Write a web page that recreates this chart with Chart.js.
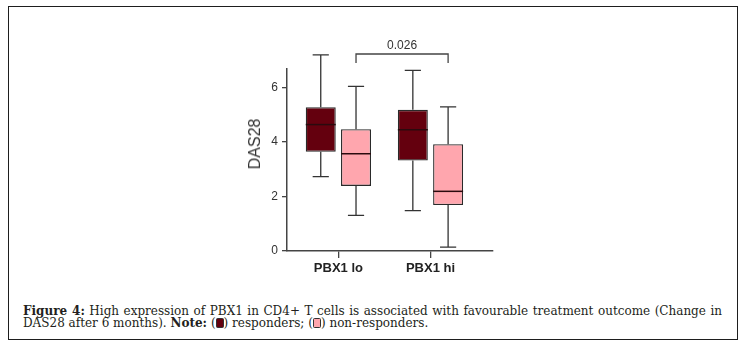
<!DOCTYPE html>
<html>
<head>
<meta charset="utf-8">
<script src="https://cdn.jsdelivr.net/npm/chart.js@4.4.1/dist/chart.umd.min.js"></script>
<style>
  html, body { margin: 0; padding: 0; background: #fff; }
  body { width: 744px; height: 349px; position: relative; overflow: hidden; }
  .frame { position: absolute; left: 8px; top: 6px; width: 729.5px; height: 334px; border: 1.5px solid #1e1e1e; box-sizing: border-box; }
  .chart-wrap { position: absolute; left: 0; top: 0; width: 744px; height: 300px; }
  .y-title { position: absolute; left: 255px; top: 144px; transform: translate(-50%, -50%) rotate(-90deg);
    font: 16px "Liberation Sans", Arial, sans-serif; color: #333; white-space: nowrap; }
  .caption { position: absolute; left: 23px; top: 304.5px; width: 699px; font: 12px "DejaVu Serif", serif;
    color: #231f20; line-height: 12.7px; }
  .caption .l1 { text-align: justify; text-align-last: justify; white-space: nowrap; }
  .swatch { display: inline-block; width: 6px; height: 8px; border: 1px solid #333; border-radius: 1.5px; vertical-align: -1px; }
</style>
</head>
<body>
<div class="frame"></div>
<div class="chart-wrap"><canvas id="boxChart"></canvas></div>
<div class="y-title">DAS28</div>
<div class="caption">
  <div class="l1"><b>Figure 4:</b> High expression of PBX1 in CD4+ T cells is associated with favourable treatment outcome (Change in</div>
  <div>DAS28 after 6 months). <b>Note:</b> (<span class="swatch" style="background:#64000e"></span>) responders; (<span class="swatch" style="background:#ffa6ae"></span>) non-responders.</div>
</div>
<script>
// groups on the x axis
const groups = ['PBX1 lo', 'PBX1 hi'];
const yTicks = [0, 2, 4, 6];

// responders (box plot stats)
const respMin = [2.73, 1.48];
const respQ1  = [3.64, 3.32];
const respMed = [4.64, 4.45];
const respQ3  = [5.28, 5.18];
const respMax = [7.20, 6.63];

// non-responders
const nonMin = [1.31, 0.14];
const nonQ1  = [2.39, 1.69];
const nonMed = [3.57, 2.19];
const nonQ3  = [4.47, 3.92];
const nonMax = [6.04, 5.29];

// significance bracket between the non-responder boxes
const pValue = '0.026';
const bracketTop = 7.23;
const bracketEnd = 6.9;

const font = '"Liberation Sans", Arial, sans-serif';

// whiskers, medians and the p-value bracket
const boxPlugin = {
    id: 'boxWhiskers',
    afterDatasetsDraw(chart) {
        const ctx = chart.ctx;
        const y = chart.scales.y;
        const stats = [
            { min: respMin, q1: respQ1, med: respMed, q3: respQ3, max: respMax },
            { min: nonMin, q1: nonQ1, med: nonMed, q3: nonQ3, max: nonMax }
        ];
        ctx.save();
        ctx.lineCap = 'butt';
        stats.forEach((s, d) => {
            chart.getDatasetMeta(d).data.forEach((bar, i) => {
                const x = bar.x;
                const half = bar.width / 2;
                const cap = bar.width * 0.27;
                ctx.strokeStyle = '#333';
                ctx.lineWidth = 1.3;
                ctx.beginPath();
                ctx.moveTo(x, y.getPixelForValue(s.max[i]));
                ctx.lineTo(x, y.getPixelForValue(s.q3[i]));
                ctx.moveTo(x, y.getPixelForValue(s.q1[i]));
                ctx.lineTo(x, y.getPixelForValue(s.min[i]));
                ctx.moveTo(x - cap, y.getPixelForValue(s.max[i]));
                ctx.lineTo(x + cap, y.getPixelForValue(s.max[i]));
                ctx.moveTo(x - cap, y.getPixelForValue(s.min[i]));
                ctx.lineTo(x + cap, y.getPixelForValue(s.min[i]));
                ctx.stroke();
                // median
                ctx.strokeStyle = '#2a0a0e';
                ctx.lineWidth = 1.5;
                ctx.beginPath();
                ctx.moveTo(x - half, y.getPixelForValue(s.med[i]));
                ctx.lineTo(x + half, y.getPixelForValue(s.med[i]));
                ctx.stroke();
            });
        });

        const nonBars = chart.getDatasetMeta(1).data;
        const x0 = nonBars[0].x, x1 = nonBars[1].x;
        const top = y.getPixelForValue(bracketTop);
        const end = y.getPixelForValue(bracketEnd);
        ctx.strokeStyle = '#444';
        ctx.lineWidth = 1.3;
        ctx.beginPath();
        ctx.moveTo(x0, end);
        ctx.lineTo(x0, top);
        ctx.lineTo(x1, top);
        ctx.lineTo(x1, end);
        ctx.stroke();
        ctx.fillStyle = '#333';
        ctx.font = '12px ' + font;
        ctx.textAlign = 'center';
        ctx.textBaseline = 'alphabetic';
        ctx.fillText(pValue, (x0 + x1) / 2, top - 5.5);
        ctx.restore();
    }
};

new Chart(document.getElementById('boxChart'), {
    type: 'bar',
    data: {
        datasets: [{
            label: 'responders',
            data: groups.map((g, i) => ({ x: i + 1, y: [respQ1[i], respQ3[i]] })),
            backgroundColor: '#64000e',
            borderColor: '#2a2a2a',
            borderWidth: 1.3,
            borderSkipped: false,
            categoryPercentage: 0.766,
            barPercentage: 0.85
        }, {
            label: 'non-responders',
            data: groups.map((g, i) => ({ x: i + 1, y: [nonQ1[i], nonQ3[i]] })),
            backgroundColor: '#ffa6ae',
            borderColor: '#2a2a2a',
            borderWidth: 1.3,
            borderSkipped: false,
            categoryPercentage: 0.766,
            barPercentage: 0.85
        }]
    },
    options: {
        responsive: true,
        maintainAspectRatio: false,
        animation: false,
        layout: { padding: { left: 237, right: 251, top: 69, bottom: 9 } },
        plugins: { legend: { display: false }, tooltip: { enabled: false } },
        scales: {
            x: {
                type: 'linear',
                min: 0.442,
                max: 2.679,
                offset: false,
                afterBuildTicks: s => { s.ticks = groups.map((g, i) => ({ value: i + 1 })); },
                afterFit: s => { s.height = 40; },
                ticks: {
                    callback: v => groups[v - 1],
                    font: { family: font, size: 13, weight: 'bold' },
                    color: '#222',
                    padding: 3,
                    maxRotation: 0
                },
                grid: { offset: false, drawOnChartArea: false, tickLength: 7, color: '#444', lineWidth: 1.3 },
                border: { color: '#444', width: 1.5 }
            },
            y: {
                min: 0,
                max: 6.68,
                afterBuildTicks: s => { s.ticks = yTicks.map(v => ({ value: v })); },
                afterFit: s => { s.width = 50; },
                ticks: { font: { family: font, size: 12 }, color: '#333', padding: 4 },
                grid: { drawOnChartArea: false, tickLength: 5, color: '#444', lineWidth: 1.3 },
                border: { color: '#444', width: 1.5 }
            }
        }
    },
    plugins: [boxPlugin]
});
</script>
</body>
</html>
